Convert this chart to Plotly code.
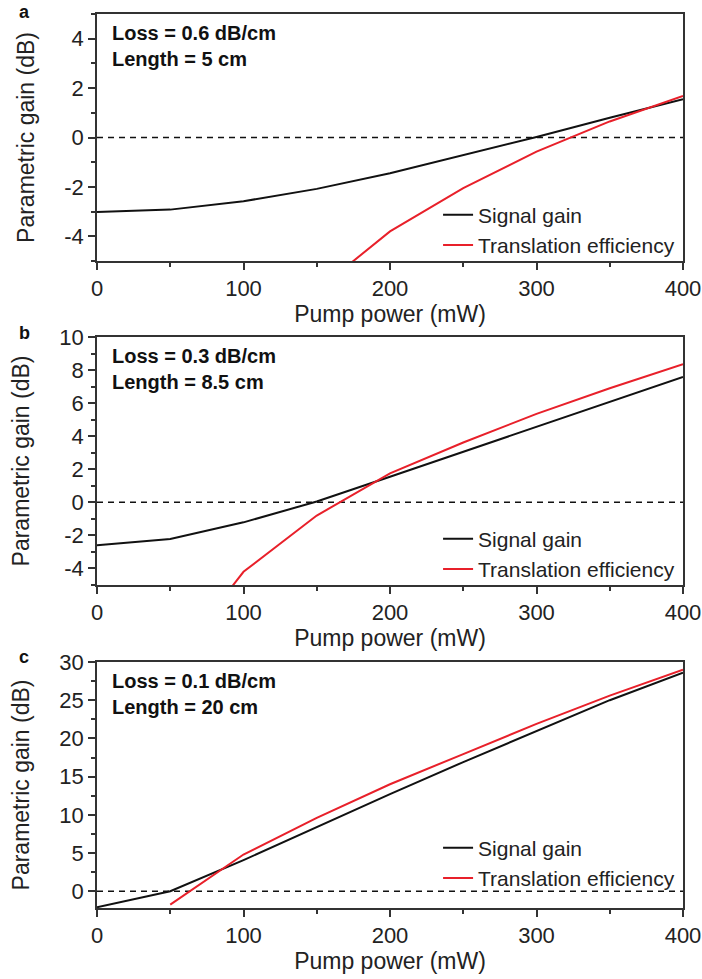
import plotly.graph_objects as go

# ---------------- data ----------------
power = [0, 50, 100, 150, 200, 250, 300, 350, 400]

a_signal = [-3.02, -2.92, -2.58, -2.08, -1.45, -0.72, 0.02, 0.80, 1.55]
a_trans_power = [150, 200, 250, 300, 350, 400]
a_trans = [-6.2, -3.8, -2.05, -0.57, 0.65, 1.68]

b_signal = [-2.59, -2.22, -1.21, 0.05, 1.55, 3.05, 4.55, 6.05, 7.58]
b_trans_power = [50, 100, 150, 200, 250, 300, 350, 400]
b_trans = [-9.9, -4.2, -0.8, 1.75, 3.62, 5.35, 6.9, 8.36]

c_signal = [-2.1, 0.0, 4.07, 8.4, 12.7, 16.9, 21.0, 25.0, 28.6]
c_trans_power = [50, 100, 150, 200, 250, 300, 350, 400]
c_trans = [-1.75, 4.8, 9.6, 14.0, 17.95, 21.9, 25.6, 29.0]

# tick labels
x_ticks = [0, 100, 200, 300, 400]
x_ticklabels = ["0", "100", "200", "300", "400"]
a_yticks = [-4, -2, 0, 2, 4]
a_yticklabels = ["-4", "-2", "0", "2", "4"]
b_yticks = [-4, -2, 0, 2, 4, 6, 8, 10]
b_yticklabels = ["-4", "-2", "0", "2", "4", "6", "8", "10"]
c_yticks = [0, 5, 10, 15, 20, 25, 30]
c_yticklabels = ["0", "5", "10", "15", "20", "25", "30"]

panel_letters = ["a", "b", "c"]
loss_labels = ["Loss = 0.6 dB/cm", "Loss = 0.3 dB/cm", "Loss = 0.1 dB/cm"]
length_labels = ["Length = 5 cm", "Length = 8.5 cm", "Length = 20 cm"]
y_ranges = [[-5, 5], [-5, 10], [-2.2, 30]]
y_minor = [1, 1, 2.5]
series_names = ["Signal gain", "Translation efficiency"]

# ---------------- style ----------------
FONT = "Liberation Sans, Arial, sans-serif"
BLACK = "#111111"
RED = "#e8202a"
AXC = "#333333"
TXT = "#222222"
W, H = 702, 979
ML, MR, MT, MB = 97, 19, 14, 71
plot_h = H - MT - MB

# panel pixel tops/bottoms (figure coords)
panel_px = [(14, 261), (337, 585), (662, 908)]
legend_cy = [230, 554, 863]
letter_y = [12, 333, 657]


def dom(top, bot):
    return [1 - (bot - MT) / plot_h, 1 - (top - MT) / plot_h]


fig = go.Figure()

datasets = [
    (power, a_signal, a_trans_power, a_trans),
    (power, b_signal, b_trans_power, b_trans),
    (power, c_signal, c_trans_power, c_trans),
]
yticks = [(a_yticks, a_yticklabels), (b_yticks, b_yticklabels), (c_yticks, c_yticklabels)]

legend_keys = ["legend", "legend2", "legend3"]

for i, (px_, sig, tpx, tr) in enumerate(datasets):
    xa = "x" if i == 0 else f"x{i+1}"
    ya = "y" if i == 0 else f"y{i+1}"
    fig.add_trace(go.Scatter(x=px_, y=sig, mode="lines", name=series_names[0],
                             line=dict(color=BLACK, width=2),
                             xaxis=xa, yaxis=ya, legend=legend_keys[i]))
    fig.add_trace(go.Scatter(x=tpx, y=tr, mode="lines", name=series_names[1],
                             line=dict(color=RED, width=2),
                             xaxis=xa, yaxis=ya, legend=legend_keys[i]))

layout = dict(
    width=W, height=H,
    margin=dict(l=ML, r=MR, t=MT, b=MB, autoexpand=False),
    paper_bgcolor="white", plot_bgcolor="white",
    font=dict(family=FONT, color=TXT, size=22),
    showlegend=True,
)

annotations = []
shapes = []
for i in range(3):
    sfx = "" if i == 0 else str(i + 1)
    top, bot = panel_px[i]
    d = dom(top, bot)
    layout[f"xaxis{sfx}"] = dict(
        domain=[0, 1], anchor=f"y{sfx}", range=[0, 400], automargin=False,
        tickmode="array", tickvals=x_ticks, ticktext=x_ticklabels,
        ticks="outside", ticklen=7, tickwidth=1.5,
        tickcolor=AXC, showline=True, linecolor=AXC, linewidth=1.5,
        mirror=True, showgrid=False, zeroline=False,
        tickfont=dict(size=22, family=FONT, color=TXT),
        minor=dict(tickmode="linear", tick0=0, dtick=50, ticks="outside",
                   ticklen=4, tickwidth=1.5, tickcolor=AXC, showgrid=False),
        title=dict(text="Pump power (mW)", font=dict(size=23, family=FONT, color=TXT),
                   standoff=4),
    )
    tv, tt = yticks[i]
    layout[f"yaxis{sfx}"] = dict(
        domain=d, anchor=f"x{sfx}", range=y_ranges[i], automargin=False,
        tickmode="array", tickvals=tv, ticktext=tt,
        ticks="outside", ticklen=7, tickwidth=1.5,
        tickcolor=AXC, showline=True, linecolor=AXC, linewidth=1.5,
        mirror=True, showgrid=False, zeroline=False,
        tickfont=dict(size=22, family=FONT, color=TXT),
        minor=dict(tickmode="linear", tick0=0, dtick=y_minor[i], ticks="outside",
                   ticklen=4, tickwidth=1.5, tickcolor=AXC, showgrid=False),
        title=dict(text="Parametric gain (dB)", font=dict(size=23, family=FONT, color=TXT),
                   standoff=23),
    )
    # dashed zero reference line
    shapes.append(dict(type="line", xref=f"x{sfx} domain", x0=0, x1=1,
                       yref=f"y{sfx}", y0=0, y1=0,
                       line=dict(color=BLACK, width=1.5, dash="6px,5px"), layer="below"))
    # loss / length text
    annotations.append(dict(
        xref=f"x{sfx} domain", yref=f"y{sfx} domain", x=0.022, y=0.975,
        xanchor="left", yanchor="top", showarrow=False, align="left",
        text=f"<b>{loss_labels[i]}</b><br><b>{length_labels[i]}</b>",
        font=dict(size=20, family=FONT, color="#111111"),
    ))
    # panel letter
    annotations.append(dict(
        xref="paper", yref="paper", x=(24 - ML) / (W - ML - MR),
        y=1 - (letter_y[i] - MT) / plot_h, xanchor="center", yanchor="middle",
        showarrow=False, text=f"<b>{panel_letters[i]}</b>",
        font=dict(size=18, family=FONT, color="#111111"),
    ))
    key = legend_keys[i]
    layout[key] = dict(
        x=0.995, xanchor="right", y=1 - (legend_cy[i] - MT) / plot_h, yanchor="middle",
        bgcolor="rgba(0,0,0,0)", borderwidth=0,
        font=dict(size=21, family=FONT, color=TXT),
        tracegroupgap=0,
    )

layout["annotations"] = annotations
layout["shapes"] = shapes
fig.update_layout(**layout)

fig.write_html("out.html")
